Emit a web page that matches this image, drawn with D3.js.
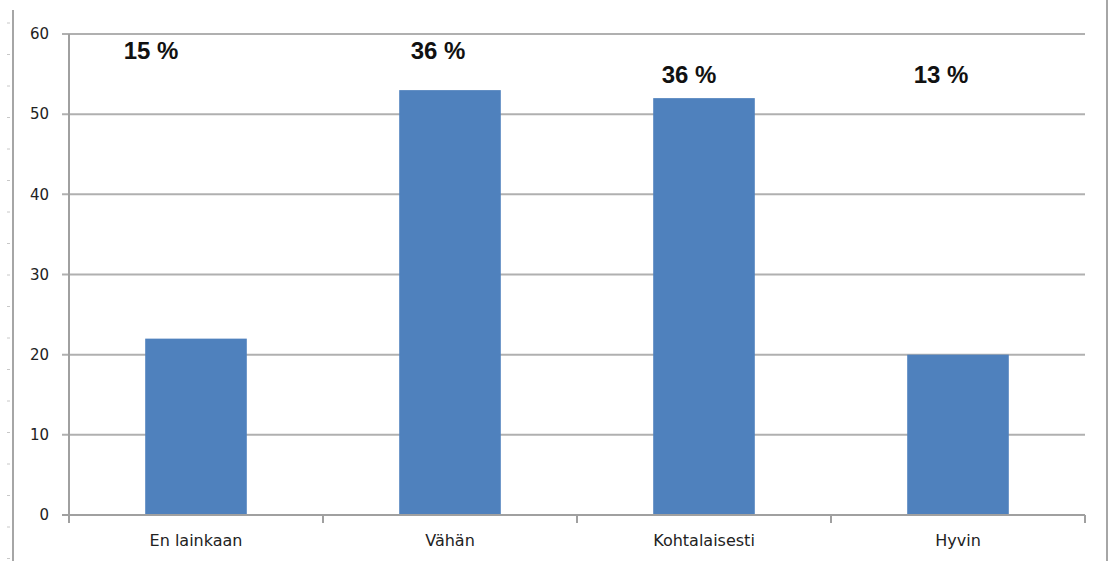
<!DOCTYPE html>
<html lang="en">
<head>
	<meta charset="UTF-8">
	<title>Chart</title>
	<style>
		body { margin: 0; background: #fff; }
		.tick text { font: 15px "DejaVu Sans", sans-serif; fill: #222; }
		.pct { font: bold 24px "Liberation Sans", Arial, sans-serif; fill: #111; }
	</style>
	<script src="https://cdn.jsdelivr.net/npm/d3@7/dist/d3.min.js"></script>
</head>
<body>
<script>
	var categories = ["En lainkaan", "Vähän", "Kohtalaisesti", "Hyvin"];
	var values = [22, 53, 52, 20];
	var pctLabels = ["15 %", "36 %", "36 %", "13 %"];
	var yTicks = [0, 10, 20, 30, 40, 50, 60];

	var W = 1109, H = 561;
	var plotLeft = 69, plotRight = 1085, plotTop = 34, plotBottom = 515;

	var svg = d3.select("body").append("svg")
		.attr("width", W)
		.attr("height", H);

	// page border lines and ruler marks
	svg.append("line").attr("x1", 13).attr("x2", 13).attr("y1", 10).attr("y2", H)
		.attr("stroke", "#a6a6a6").attr("stroke-width", 2);
	svg.append("line").attr("x1", 1107).attr("x2", 1107).attr("y1", 0).attr("y2", H)
		.attr("stroke", "#a6a6a6").attr("stroke-width", 2);
	svg.selectAll(".ruler").data(d3.range(23, H, 31.5)).enter().append("line")
		.attr("class", "ruler")
		.attr("x1", 7).attr("x2", 10)
		.attr("y1", function(d) { return d; }).attr("y2", function(d) { return d; })
		.attr("stroke", "#c8c8c8").attr("stroke-width", 1);

	var x = d3.scaleBand()
		.domain(categories)
		.range([plotLeft, plotRight])
		.paddingInner(0.6)
		.paddingOuter(0.3);

	var y = d3.scaleLinear()
		.domain([0, 60])
		.range([plotBottom, plotTop]);

	// gridlines
	svg.append("g")
		.selectAll("line").data(yTicks).enter().append("line")
		.attr("x1", plotLeft - 7).attr("x2", plotRight)
		.attr("y1", function(d) { return y(d); }).attr("y2", function(d) { return y(d); })
		.attr("stroke", "#b0b0b0").attr("stroke-width", 2);

	// y axis
	var yAxis = svg.append("g")
		.attr("transform", "translate(" + plotLeft + ",0)")
		.call(d3.axisLeft(y).tickValues(yTicks).tickSize(7).tickPadding(13));
	yAxis.select(".domain").remove();
	yAxis.selectAll(".tick line").remove();
	yAxis.selectAll(".tick text").attr("font-size", "15.5px");
	svg.append("line").attr("x1", plotLeft).attr("x2", plotLeft).attr("y1", plotTop).attr("y2", plotBottom + 8)
		.attr("stroke", "#a0a0a0").attr("stroke-width", 2);

	// bars
	svg.selectAll(".bar").data(values).enter().append("rect")
		.attr("class", "bar")
		.attr("x", function(d, i) { return x(categories[i]); })
		.attr("y", function(d) { return y(d); })
		.attr("width", x.bandwidth())
		.attr("height", function(d) { return y(0) - y(d); })
		.attr("fill", "#4f81bd");

	// x axis
	var step = x.step();
	var bounds = d3.range(categories.length + 1).map(function(i) { return plotLeft + i * step; });
	svg.append("line").attr("x1", plotLeft - 7).attr("x2", plotRight).attr("y1", plotBottom).attr("y2", plotBottom)
		.attr("stroke", "#a0a0a0").attr("stroke-width", 2);
	svg.selectAll(".xt").data(bounds).enter().append("line")
		.attr("class", "xt")
		.attr("x1", function(d) { return d; }).attr("x2", function(d) { return d; })
		.attr("y1", plotBottom).attr("y2", plotBottom + 8)
		.attr("stroke", "#a0a0a0").attr("stroke-width", 2);

	var xAxis = svg.append("g")
		.attr("transform", "translate(0," + plotBottom + ")")
		.call(d3.axisBottom(x).tickSize(0).tickPadding(20));
	xAxis.select(".domain").remove();
	xAxis.selectAll(".tick text").style("font-size", "16px");

	// percent labels (free text boxes in the original)
	var offs = [[-45, 59], [-12, 59], [-15, 83], [-17, 83]];
	svg.selectAll(".pct").data(pctLabels).enter().append("text")
		.attr("class", "pct")
		.attr("text-anchor", "middle")
		.attr("x", function(d, i) { return x(categories[i]) + x.bandwidth() / 2 + offs[i][0]; })
		.attr("y", function(d, i) { return offs[i][1]; })
		.text(function(d) { return d; });
</script>
</body>
</html>
